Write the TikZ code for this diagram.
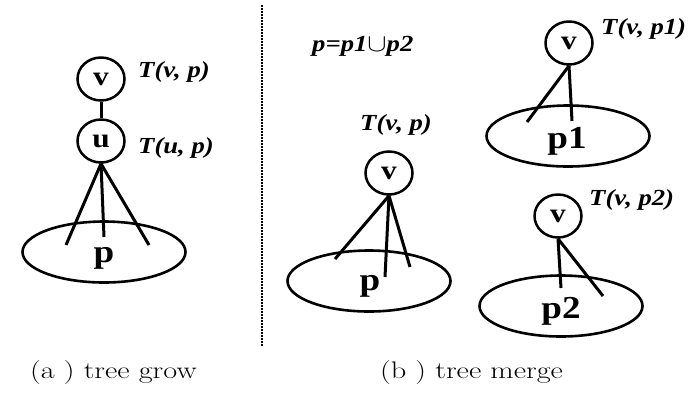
\documentclass[tikz,border=0pt]{standalone}
\usepackage{graphicx}
\usepackage{fontspec}
\setmainfont{Liberation Serif}
\newfontfamily\capfont{Latin Modern Roman}
\usetikzlibrary{shapes.geometric}
\newcommand{\wide}[1]{\scalebox{1.16}[1]{#1}}
\newcommand{\capwide}[1]{\scalebox{1.26}[1]{#1}}
\tikzset{
  x=1pt, y=-1pt,
  vnode/.style={ellipse, draw, line width=2.5pt, minimum width=47pt, minimum height=43pt, inner sep=0pt,
    font=\fontsize{27}{27}\selectfont\bfseries},
  setnode/.style={ellipse, draw, line width=2.6pt, minimum width=163pt, minimum height=61pt, inner sep=0pt},
  setlabel/.style={font=\fontsize{32}{32}\selectfont\bfseries, inner sep=0pt},
  tlabel/.style={font=\fontsize{23}{23}\selectfont\bfseries\itshape, inner sep=0pt, anchor=west},
  edge/.style={line width=3pt},
  caption/.style={font=\capfont\fontsize{24}{24}\selectfont, inner sep=0pt},
  divider/.style={line width=2.8pt, dash pattern=on 1.6pt off 1.4pt, black}
}
\begin{document}
\begin{tikzpicture}
\useasboundingbox (0,0) rectangle (695,392);
% ---------- (a) tree grow ----------
\node[setnode] (Pa) at (104,252) {};
\node[setlabel] (PaL) at (104,258) {\wide{p}};
\node[vnode] (va) at (101,79) {\wide{v}};
\node[vnode] (ua) at (101,141) {\wide{u}};
\node[tlabel] (Tva) at (138,72) {\wide{T(v, p)}};
\node[tlabel] (Tua) at (138,148) {\wide{T(u, p)}};
\coordinate (a1) at (66,245);
\coordinate (a2) at (104,237);
\coordinate (a3) at (149,245);
\draw[edge] (va.south) -- (ua.north);
\draw[edge] (ua.south) -- (a1);
\draw[edge] (ua.south) -- (a2);
\draw[edge] (ua.south) -- (a3);
% ---------- divider ----------
\coordinate (d1) at (262,5);
\coordinate (d2) at (262,346);
\draw[divider] (d1) -- (d2);
% ---------- (b) tree merge ----------
\node[tlabel] (eq) at (312,46) {\wide{p=p1{\fontsize{26}{26}\selectfont$\cup$}p2}};
% middle tree T(v,p)
\node[setnode] (Pb) at (369,281) {};
\node[setlabel] (PbL) at (370,286) {\wide{p}};
\node[vnode] (vb) at (389,173) {\wide{v}};
\node[tlabel] (Tvb) at (360,125) {\wide{T(v, p)}};
\coordinate (b1) at (335,259);
\coordinate (b2) at (385,277);
\coordinate (b3) at (410,267);
\draw[edge] (vb.south) -- (b1);
\draw[edge] (vb.south) -- (b2);
\draw[edge] (vb.south) -- (b3);
% top right tree T(v,p1)
\node[setnode] (Pc) at (568,136) {};
\node[setlabel] (PcL) at (567,141) {\wide{p1}};
\node[vnode] (vc) at (569,43) {\wide{v}};
\node[tlabel] (Tvc) at (601,29) {\wide{T(v, p1)}};
\coordinate (c1) at (527,122);
\coordinate (c2) at (572,121);
\draw[edge] (vc.south) -- (c1);
\draw[edge] (vc.south) -- (c2);
% bottom right tree T(v,p2)
\node[setnode] (Pd) at (561,306) {};
\node[setlabel] (PdL) at (561,311) {\wide{p2}};
\node[vnode] (vd) at (558,216) {\wide{v}};
\node[tlabel] (Tvd) at (589,200) {\wide{T(v, p2)}};
\coordinate (e1) at (561,288);
\coordinate (e2) at (603,296);
\draw[edge] (vd.south) -- (e1);
\draw[edge] (vd.south) -- (e2);
% ---------- captions ----------
\node[caption, anchor=west] (capa) at (30,373) {\capwide{(a ) tree grow}};
\node[caption, anchor=west] (capb) at (380,373) {\capwide{(b ) tree merge}};
\end{tikzpicture}
\end{document}
